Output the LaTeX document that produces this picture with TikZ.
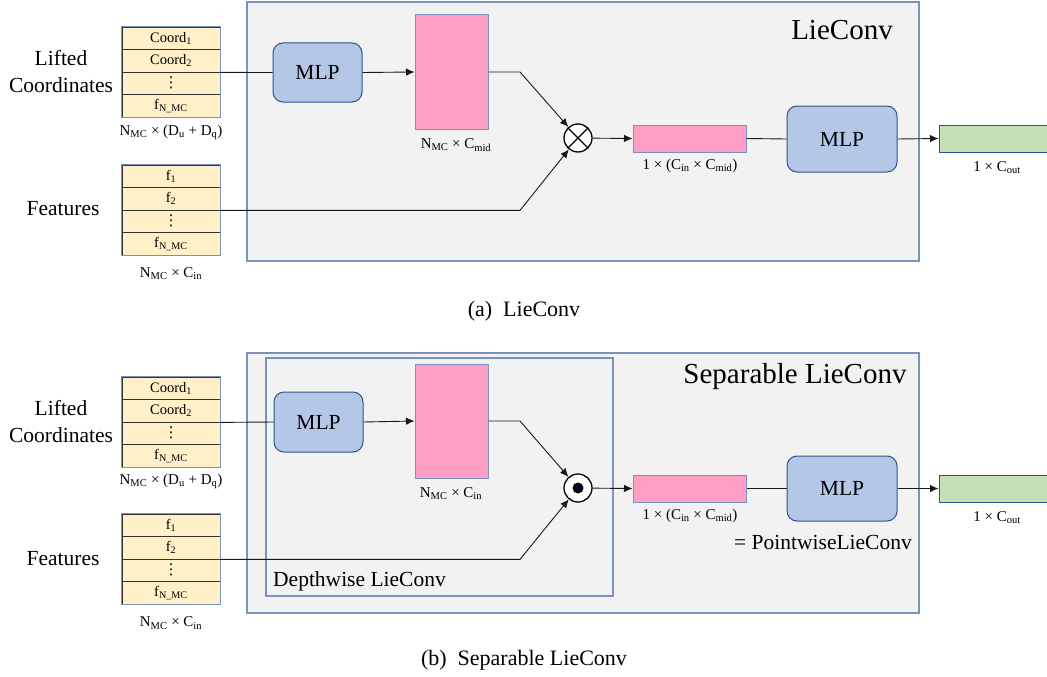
\documentclass[tikz,border=0pt]{standalone}
\usepackage{fontspec}
\setmainfont{Liberation Serif}
\newfontfamily\symfont{DejaVu Sans}
\usetikzlibrary{arrows.meta}

\definecolor{panelgray}{RGB}{242,242,242}
\definecolor{panelblue}{RGB}{124,146,190}
\definecolor{cellfill}{RGB}{255,240,200}
\definecolor{mlpfill}{RGB}{180,199,231}
\definecolor{mlpline}{RGB}{47,82,143}
\definecolor{pinkfill}{RGB}{255,158,196}
\definecolor{greenfill}{RGB}{197,224,180}
\definecolor{wire}{RGB}{25,25,25}

\newcommand{\celldots}{{\symfont\fontsize{15}{15}\selectfont ⋮}}

\tikzset{
  panel/.style={draw=panelblue, fill=panelgray, line width=1.3pt},
  subpanel/.style={draw=panelblue, line width=1.2pt},
  cell/.style={draw=black!80, fill=cellfill, line width=0.8pt, minimum width=98pt,
    minimum height=22.5pt, inner sep=0pt, font=\fontsize{14.5}{16}\selectfont},
  stackline/.style={draw=panelblue, line width=1.2pt},
  mlp/.style={draw=mlpline, fill=mlpfill, rounded corners=10pt, line width=1pt,
    inner sep=0pt, font=\fontsize{21.5}{24}\selectfont},
  pinkbox/.style={draw=panelblue, fill=pinkfill, line width=1pt, inner sep=0pt},
  greenbox/.style={draw=mlpline, fill=greenfill, line width=1pt, inner sep=0pt,
    minimum width=110pt, minimum height=27pt},
  dimlabel/.style={inner sep=0pt, font=\fontsize{15}{17}\selectfont},
  conn/.style={draw=wire, line width=0.9pt},
  arr/.style={conn, -{Latex[length=8.5pt,width=7.5pt]}},
  op/.style={circle, draw=black, fill=white, line width=1.3pt, minimum size=28pt, inner sep=0pt},
  bigtext/.style={inner sep=0pt, align=center, font=\fontsize{21.5}{27}\selectfont},
  titletext/.style={inner sep=0pt, font=\fontsize{29}{32}\selectfont},
  captext/.style={inner sep=0pt, font=\fontsize{22}{24}\selectfont}
}

\begin{document}
\begin{tikzpicture}[x=1pt,y=1pt,yscale=-1]
\useasboundingbox (0,0) rectangle (1047,677);

%%%%%%%%%%%%%%%% (a) LieConv
%Shape: Rectangle
\draw [panel] (247,2) rectangle (919,261);
% Text Node
\node [titletext] (ttla) at (842,30) {LieConv};

% input stacks
\node [bigtext] (lfta) at (61,71.5) {Lifted\\Coordinates};
\node [cell] (lca1) at (171,38.25) {Coord\textsubscript{1}};
\node [cell] (lca2) at (171,60.75) {Coord\textsubscript{2}};
\node [cell] (lca3) at (171,83.25) {\celldots};
\node [cell] (lca4) at (171,105.75) {f\textsubscript{N\_MC}};
\draw [stackline] (lca1.north west) rectangle (lca4.south east);
\node [dimlabel] (lcda) at (171,132) {N\textsubscript{MC} × (D\textsubscript{u} + D\textsubscript{q})};

\node [bigtext] (fta) at (63,209) {Features};
\node [cell] (fta1) at (171,176.25) {f\textsubscript{1}};
\node [cell] (fta2) at (171,198.75) {f\textsubscript{2}};
\node [cell] (fta3) at (171,221.25) {\celldots};
\node [cell] (fta4) at (171,243.75) {f\textsubscript{N\_MC}};
\draw [stackline] (fta1.north west) rectangle (fta4.south east);
\node [dimlabel] (ftda) at (171,274) {N\textsubscript{MC} × C\textsubscript{in}};

% blocks
\node [mlp, minimum width=89pt, minimum height=59pt] (mlpa1) at (317.5,72.5) {MLP};
\node [pinkbox, minimum width=73pt, minimum height=114pt] (mida) at (451.5,72) {};
\node [dimlabel] (midda) at (456,145) {N\textsubscript{MC} × C\textsubscript{mid}};
\node [op] (opa) at (578,138) {};
\draw [line width=1.1pt] (opa.45) -- (opa.225) (opa.135) -- (opa.-45);
\node [pinkbox, minimum width=113pt, minimum height=27pt] (veca) at (689.5,138.5) {};
\node [dimlabel] (vecda) at (690,166) {1 × (C\textsubscript{in} × C\textsubscript{mid})};
\node [mlp, minimum width=110pt, minimum height=66pt] (mlpa2) at (842,139) {MLP};
\node [greenbox] (outa) at (994,138.5) {};
\node [dimlabel] (outda) at (997,168) {1 × C\textsubscript{out}};

% connectors
\coordinate (bnda) at (520,72);
\draw [conn] (lca2.south east) -- (mlpa1.west);
\draw [arr] (mlpa1.east) -- (mida.west);
\draw [arr] (mida.east) -- (bnda) -- (opa);
\draw [arr] (fta2.south east) -- (fta2.south east -| bnda) -- (opa);
\draw [arr] (opa) -- (veca.west);
\draw [conn] (veca.east) -- (mlpa2.west);
\draw [arr] (mlpa2.east) -- (outa.west);

\node [captext] (capa) at (524,311) {(a)\ \ LieConv};

%%%%%%%%%%%%%%%% (b) Separable LieConv
%Shape: Rectangle
\draw [panel] (247,353) rectangle (919,613);
\draw [subpanel] (266,358) rectangle (613,596);
% Text Node
\node [titletext] (ttlb) at (795,377) {Separable LieConv};
\node [bigtext, anchor=west] (dwb) at (273,581) {Depthwise LieConv};
\node [bigtext] (pwb) at (823,542) {= PointwiseLieConv};

% input stacks
\node [bigtext] (lftb) at (61,421.5) {Lifted\\Coordinates};
\node [cell] (lcb1) at (171,388.25) {Coord\textsubscript{1}};
\node [cell] (lcb2) at (171,410.75) {Coord\textsubscript{2}};
\node [cell] (lcb3) at (171,433.25) {\celldots};
\node [cell] (lcb4) at (171,455.75) {f\textsubscript{N\_MC}};
\draw [stackline] (lcb1.north west) rectangle (lcb4.south east);
\node [dimlabel] (lcdb) at (171,481) {N\textsubscript{MC} × (D\textsubscript{u} + D\textsubscript{q})};

\node [bigtext] (ftb) at (63,559) {Features};
\node [cell] (ftb1) at (171,525.25) {f\textsubscript{1}};
\node [cell] (ftb2) at (171,547.75) {f\textsubscript{2}};
\node [cell] (ftb3) at (171,570.25) {\celldots};
\node [cell] (ftb4) at (171,592.75) {f\textsubscript{N\_MC}};
\draw [stackline] (ftb1.north west) rectangle (ftb4.south east);
\node [dimlabel] (ftdb) at (171,623) {N\textsubscript{MC} × C\textsubscript{in}};

% blocks
\node [mlp, minimum width=89pt, minimum height=60pt] (mlpb1) at (318.5,422) {MLP};
\node [pinkbox, minimum width=73pt, minimum height=114pt] (midb) at (451.5,421) {};
\node [dimlabel] (middb) at (451,494) {N\textsubscript{MC} × C\textsubscript{in}};
\node [op] (opb) at (578,488) {};
\fill [black!90!blue] (opb) circle (5.5);
\node [pinkbox, minimum width=113pt, minimum height=27pt] (vecb) at (689.5,488.5) {};
\node [dimlabel] (vecdb) at (690,516) {1 × (C\textsubscript{in} × C\textsubscript{mid})};
\node [mlp, minimum width=110pt, minimum height=65pt] (mlpb2) at (842,488.5) {MLP};
\node [greenbox] (outb) at (994,488.5) {};
\node [dimlabel] (outdb) at (997,518) {1 × C\textsubscript{out}};

% connectors
\coordinate (bndb) at (520,421);
\draw [conn] (lcb2.south east) -- (mlpb1.west);
\draw [arr] (mlpb1.east) -- (midb.west);
\draw [arr] (midb.east) -- (bndb) -- (opb);
\draw [arr] (ftb2.south east) -- (ftb2.south east -| bndb) -- (opb);
\draw [arr] (opb) -- (vecb.west);
\draw [conn] (vecb.east) -- (mlpb2.west);
\draw [arr] (mlpb2.east) -- (outb.west);

\node [captext] (capb) at (524,660) {(b)\ \ Separable LieConv};

\end{tikzpicture}
\end{document}
